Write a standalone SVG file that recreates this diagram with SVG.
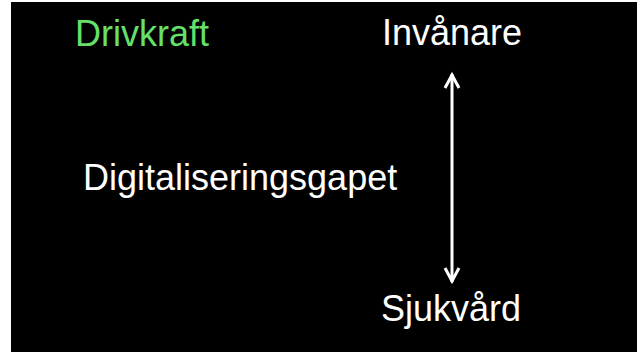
<svg xmlns="http://www.w3.org/2000/svg" width="637" height="352" viewBox="0 0 637 352">
  <style>
    .t { font-family: "Liberation Sans", Arial, sans-serif; font-size: 36px; fill: #ffffff; }
    .g { fill: #66e06a; }
    .c { stroke: #ffffff; stroke-width: 3; fill: none; stroke-linecap: butt; stroke-linejoin: miter; }
  </style>
  <rect x="0" y="0" width="637" height="352" fill="#ffffff"/>
  <rect x="11" y="2" width="626" height="350" fill="#000000"/>
  <g id="drivkraft"><text class="t g" x="75" y="46">Drivkraft</text></g>
  <g id="invanare"><text class="t" x="382" y="45">Invånare</text></g>
  <g id="digitaliseringsgapet"><text class="t" x="83" y="190">Digitaliseringsgapet</text></g>
  <g id="sjukvard"><text class="t" x="381" y="321">Sjukvård</text></g>
  <g id="connectors">
    <line class="c" x1="452" y1="74" x2="452" y2="282"/>
    <polyline class="c" points="445,88 452,75 459,88"/>
    <polyline class="c" points="445,268 452,281 459,268"/>
  </g>
</svg>
